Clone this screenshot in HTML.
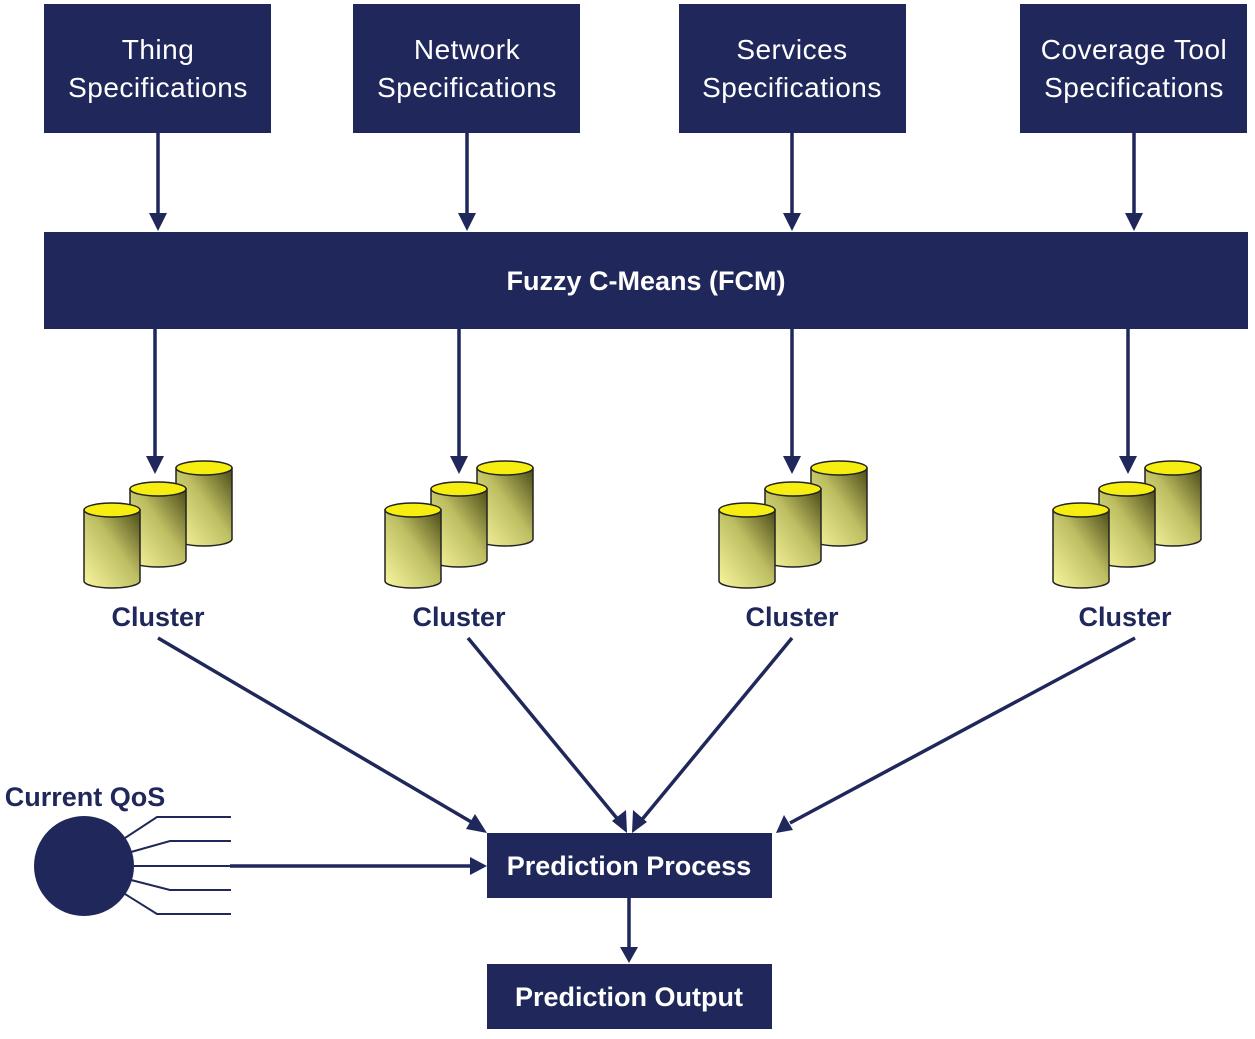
<!DOCTYPE html>
<html><head><meta charset="utf-8"><style>
html,body{margin:0;padding:0;background:#fff;}
svg{display:block;}
text{font-family:"Liberation Sans",sans-serif;}
</style></head><body>
<svg width="1255" height="1039" viewBox="0 0 1255 1039" xmlns="http://www.w3.org/2000/svg">
<defs>
<linearGradient id="cg" x1="1" y1="0" x2="0" y2="1">
<stop offset="0" stop-color="#4a4a18"/>
<stop offset="0.45" stop-color="#bdbd62"/>
<stop offset="1" stop-color="#f8f7a0"/>
</linearGradient>
<g id="cyl">
<path d="M0,7 L0,78 A28,7 0 0 0 56,78 L56,7 Z" fill="url(#cg)" stroke="#222" stroke-width="1.5"/>
<ellipse cx="28" cy="7" rx="28" ry="7" fill="#f5ee10" stroke="#222" stroke-width="1.5"/>
</g>
<g id="clu">
<use href="#cyl" x="92" y="0"/>
<use href="#cyl" x="46" y="21"/>
<use href="#cyl" x="0" y="42"/>
</g>
</defs>
<g fill="#20275a">
<rect x="44" y="4" width="227" height="129"/>
<rect x="353" y="4" width="227" height="129"/>
<rect x="679" y="4" width="227" height="129"/>
<rect x="1020" y="4" width="227" height="129"/>
<rect x="44" y="232" width="1204" height="97"/>
<rect x="487" y="833" width="285" height="65"/>
<rect x="487" y="964" width="285" height="65"/>
<circle cx="84" cy="866" r="50"/>
</g>
<g fill="#fff" font-size="28" text-anchor="middle" letter-spacing="0.5">
<text x="158" y="59">Thing</text><text x="158" y="97">Specifications</text>
<text x="467" y="59">Network</text><text x="467" y="97">Specifications</text>
<text x="792" y="59">Services</text><text x="792" y="97">Specifications</text>
<text x="1134" y="59">Coverage Tool</text><text x="1134" y="97">Specifications</text>
</g>
<g fill="#fff" font-size="27" font-weight="bold" text-anchor="middle">
<text x="646" y="290">Fuzzy C-Means (FCM)</text>
<text x="629" y="875">Prediction Process</text>
<text x="629" y="1006">Prediction Output</text>
</g>
<g fill="#20275a" font-size="27" font-weight="bold" text-anchor="middle">
<text x="158" y="626">Cluster</text>
<text x="459" y="626">Cluster</text>
<text x="792" y="626">Cluster</text>
<text x="1125" y="626">Cluster</text>
<text x="85" y="806">Current QoS</text>
</g>
<use href="#clu" x="84" y="461"/>
<use href="#clu" x="385" y="461"/>
<use href="#clu" x="719" y="461"/>
<use href="#clu" x="1053" y="461"/>
<g stroke="#20275a" stroke-width="3.5" fill="none">
<line x1="158" y1="133" x2="158" y2="214"/>
<line x1="467" y1="133" x2="467" y2="214"/>
<line x1="792" y1="133" x2="792" y2="214"/>
<line x1="1134" y1="133" x2="1134" y2="214"/>
<line x1="155" y1="329" x2="155" y2="458"/>
<line x1="459" y1="329" x2="459" y2="458"/>
<line x1="792" y1="329" x2="792" y2="458"/>
<line x1="1128" y1="329" x2="1128" y2="458"/>
<line x1="158" y1="638" x2="473" y2="823"/>
<line x1="468" y1="638" x2="620" y2="822"/>
<line x1="792" y1="638" x2="640" y2="822"/>
<line x1="1135" y1="638" x2="790" y2="823"/>
<line x1="629" y1="898" x2="629" y2="948"/>
<line x1="230" y1="866" x2="472" y2="866"/>
</g>
<g stroke="#20275a" stroke-width="2" fill="none">
<polyline points="125,838 157,817 231,817"/>
<polyline points="131,852 170,841 231,841"/>
<line x1="134" y1="866" x2="231" y2="866"/>
<polyline points="131,880 170,890 231,890"/>
<polyline points="125,894 157,914 231,914"/>
</g>
<g fill="#20275a">
<polygon points="149,213 167,213 158,231"/>
<polygon points="458,213 476,213 467,231"/>
<polygon points="783,213 801,213 792,231"/>
<polygon points="1125,213 1143,213 1134,231"/>
<polygon points="146,456 164,456 155,474"/>
<polygon points="450,456 468,456 459,474"/>
<polygon points="783,456 801,456 792,474"/>
<polygon points="1119,456 1137,456 1128,474"/>
<polygon points="620,947 638,947 629,963"/>
<polygon points="470,857 470,875 487,866"/>
<polygon points="487,833 466,829 475,814"/>
<polygon points="627,833 612,821 626,810"/>
<polygon points="632,833 633,810 647,822"/>
<polygon points="776,833 784,815 793,830"/>
</g>
</svg>
</body></html>
